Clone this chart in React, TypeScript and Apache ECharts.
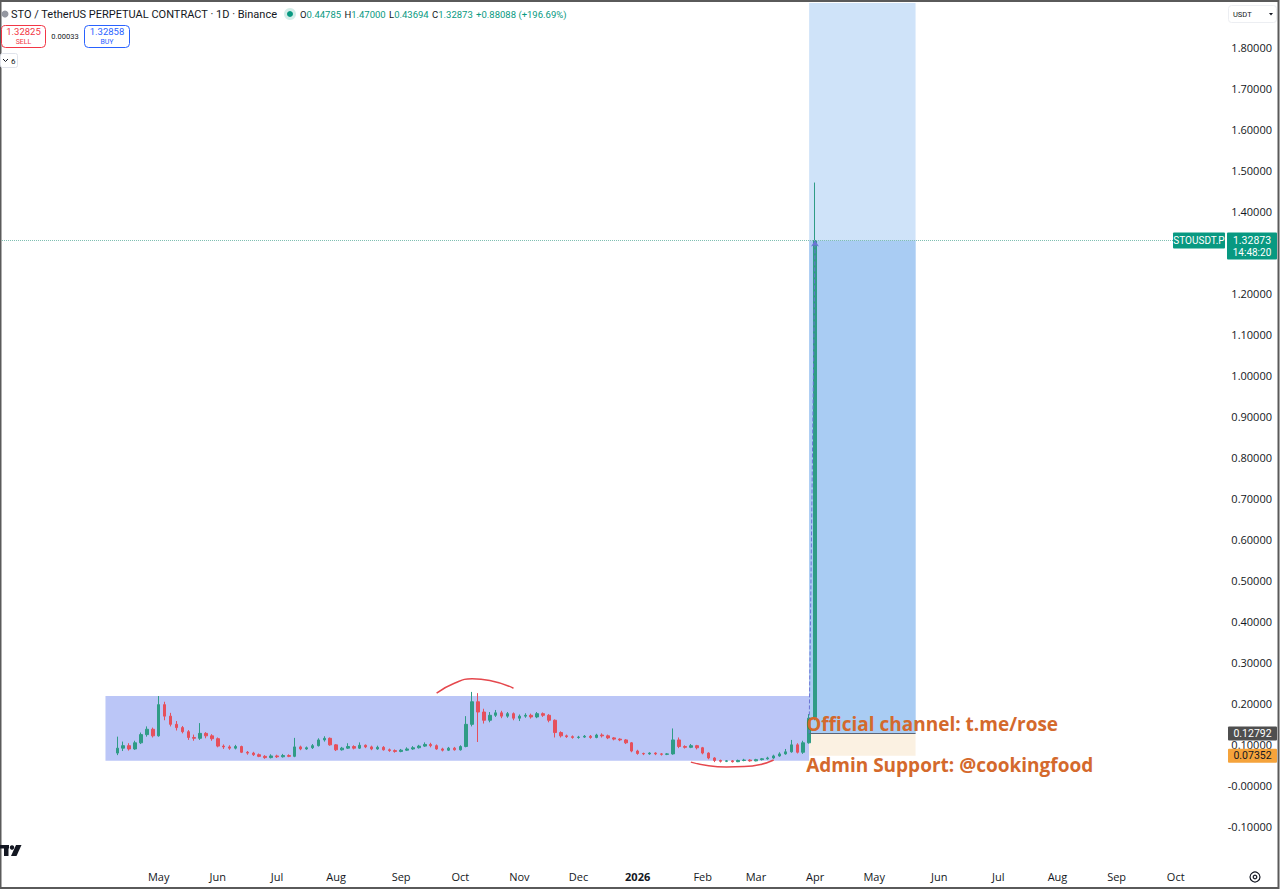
import { useEffect, useRef } from "react";
import * as echarts from "echarts";

// daily chart squeezed into 3-day buckets, first bucket starts 2025-02-12
const startDay = Date.UTC(2025, 1, 12);
const bucketDays = 3;
const bucketCount = 207;
const firstCandle = 19;
const firstLabel = 25;
const monthNames = ["Jan", "Feb", "Mar", "Apr", "May", "Jun", "Jul", "Aug", "Sep", "Oct", "Nov", "Dec"];

// [open, close, low, high]
const candles = [
  [0.080, 0.092, 0.075, 0.120],
  [0.092, 0.098, 0.085, 0.108],
  [0.098, 0.090, 0.086, 0.104],
  [0.090, 0.105, 0.088, 0.110],
  [0.105, 0.125, 0.102, 0.130],
  [0.125, 0.138, 0.120, 0.145],
  [0.138, 0.122, 0.118, 0.142],
  [0.122, 0.198, 0.120, 0.219],
  [0.198, 0.170, 0.160, 0.205],
  [0.170, 0.150, 0.145, 0.178],
  [0.150, 0.142, 0.135, 0.158],
  [0.142, 0.132, 0.128, 0.146],
  [0.132, 0.118, 0.112, 0.136],
  [0.118, 0.116, 0.110, 0.125],
  [0.116, 0.128, 0.112, 0.153],
  [0.128, 0.122, 0.116, 0.131],
  [0.122, 0.115, 0.110, 0.126],
  [0.115, 0.097, 0.094, 0.118],
  [0.097, 0.095, 0.090, 0.101],
  [0.095, 0.092, 0.088, 0.099],
  [0.092, 0.096, 0.089, 0.100],
  [0.096, 0.082, 0.080, 0.098],
  [0.082, 0.080, 0.076, 0.085],
  [0.080, 0.076, 0.073, 0.083],
  [0.076, 0.072, 0.070, 0.079],
  [0.072, 0.069, 0.066, 0.075],
  [0.069, 0.073, 0.067, 0.077],
  [0.073, 0.071, 0.068, 0.076],
  [0.071, 0.074, 0.069, 0.078],
  [0.074, 0.072, 0.070, 0.077],
  [0.072, 0.095, 0.070, 0.117],
  [0.095, 0.090, 0.087, 0.098],
  [0.090, 0.093, 0.088, 0.096],
  [0.093, 0.098, 0.090, 0.102],
  [0.098, 0.112, 0.096, 0.116],
  [0.112, 0.116, 0.108, 0.121],
  [0.116, 0.100, 0.098, 0.118],
  [0.100, 0.088, 0.085, 0.102],
  [0.088, 0.092, 0.086, 0.095],
  [0.092, 0.096, 0.090, 0.104],
  [0.096, 0.092, 0.089, 0.099],
  [0.092, 0.099, 0.090, 0.106],
  [0.099, 0.095, 0.092, 0.101],
  [0.095, 0.090, 0.087, 0.098],
  [0.090, 0.094, 0.088, 0.098],
  [0.094, 0.088, 0.086, 0.097],
  [0.088, 0.086, 0.083, 0.091],
  [0.086, 0.084, 0.081, 0.089],
  [0.084, 0.087, 0.082, 0.090],
  [0.087, 0.090, 0.085, 0.094],
  [0.090, 0.093, 0.088, 0.097],
  [0.093, 0.097, 0.091, 0.100],
  [0.097, 0.101, 0.095, 0.106],
  [0.101, 0.098, 0.094, 0.105],
  [0.098, 0.090, 0.088, 0.101],
  [0.090, 0.087, 0.084, 0.093],
  [0.087, 0.092, 0.085, 0.095],
  [0.092, 0.088, 0.086, 0.095],
  [0.088, 0.096, 0.086, 0.099],
  [0.096, 0.150, 0.094, 0.170],
  [0.150, 0.205, 0.145, 0.229],
  [0.205, 0.180, 0.107, 0.226],
  [0.180, 0.160, 0.152, 0.188],
  [0.160, 0.172, 0.155, 0.180],
  [0.172, 0.178, 0.168, 0.185],
  [0.178, 0.170, 0.165, 0.183],
  [0.170, 0.176, 0.166, 0.180],
  [0.176, 0.165, 0.160, 0.179],
  [0.165, 0.170, 0.158, 0.174],
  [0.170, 0.172, 0.166, 0.177],
  [0.172, 0.168, 0.164, 0.176],
  [0.168, 0.176, 0.165, 0.180],
  [0.176, 0.172, 0.168, 0.179],
  [0.172, 0.160, 0.155, 0.175],
  [0.160, 0.130, 0.118, 0.162],
  [0.130, 0.122, 0.118, 0.133],
  [0.122, 0.120, 0.117, 0.125],
  [0.120, 0.118, 0.115, 0.123],
  [0.118, 0.119, 0.115, 0.122],
  [0.119, 0.121, 0.117, 0.124],
  [0.121, 0.118, 0.115, 0.124],
  [0.118, 0.124, 0.116, 0.127],
  [0.124, 0.122, 0.118, 0.128],
  [0.122, 0.117, 0.114, 0.125],
  [0.117, 0.114, 0.111, 0.119],
  [0.114, 0.112, 0.109, 0.116],
  [0.112, 0.105, 0.102, 0.114],
  [0.105, 0.085, 0.082, 0.107],
  [0.085, 0.079, 0.076, 0.088],
  [0.079, 0.078, 0.075, 0.081],
  [0.078, 0.080, 0.076, 0.082],
  [0.080, 0.078, 0.075, 0.082],
  [0.078, 0.077, 0.074, 0.080],
  [0.077, 0.078, 0.075, 0.080],
  [0.078, 0.112, 0.076, 0.140],
  [0.112, 0.096, 0.092, 0.118],
  [0.096, 0.094, 0.091, 0.099],
  [0.094, 0.098, 0.092, 0.102],
  [0.098, 0.093, 0.089, 0.100],
  [0.093, 0.080, 0.077, 0.095],
  [0.080, 0.068, 0.065, 0.082],
  [0.068, 0.062, 0.058, 0.070],
  [0.062, 0.060, 0.057, 0.064],
  [0.060, 0.061, 0.058, 0.063],
  [0.061, 0.059, 0.057, 0.063],
  [0.059, 0.062, 0.058, 0.064],
  [0.062, 0.063, 0.060, 0.066],
  [0.063, 0.061, 0.059, 0.065],
  [0.061, 0.064, 0.060, 0.066],
  [0.064, 0.066, 0.062, 0.068],
  [0.066, 0.068, 0.064, 0.071],
  [0.068, 0.073, 0.066, 0.076],
  [0.073, 0.078, 0.071, 0.082],
  [0.078, 0.083, 0.076, 0.090],
  [0.083, 0.100, 0.081, 0.112],
  [0.100, 0.082, 0.079, 0.104],
  [0.082, 0.105, 0.078, 0.110],
  [0.105, 0.165, 0.103, 0.175],
  [0.165, 1.32873, 0.160, 1.47],
];

const lastPrice = 1.32873;
const entryPrice = 0.12792;
const stopPrice = 0.07352;

// consolidation box and long-position tool (bucket indices)
const rangeStart = 17;
const rangeEnd = 136;
const rangeTop = 0.219;
const rangeBottom = 0.061;
const toolStart = 136;
const toolEnd = 154;

const yMin = -0.2;
const yMax = 1.9074;
const yStep = 0.1;

// hand drawn arcs
const topArc = [[73, 0.226], [76, 0.25], [79, 0.261], [82, 0.257], [86, 0.238]];
const bottomArc = [[116, 0.058], [119, 0.049], [122, 0.046], [125, 0.047], [128, 0.053], [130, 0.063]];

const upColor = "#2f9c86";
const downColor = "#e6505c";
const tvGreen = "#089981";
const font = "'Open Sans', sans-serif";
const uiFont = "Roboto, sans-serif";

const DAY = 86400000;
const categories = Array.from({ length: bucketCount }, (_, i) =>
  new Date(startDay + i * bucketDays * DAY).toISOString().slice(0, 10)
);
const bucketLabels = categories.map((_, i) => {
  if (i < firstLabel) return "";
  for (let k = 0; k < bucketDays; k++) {
    const d = new Date(startDay + (i * bucketDays + k) * DAY);
    if (d.getUTCDate() === 1) {
      return d.getUTCMonth() === 0 ? `{y|${d.getUTCFullYear()}}` : monthNames[d.getUTCMonth()];
    }
  }
  return "";
});

const onTop = (els: any[]) => els.map((e) => ({ ...e, z: 100 }));

function chromeGraphics() {
  const t = (x: number, y: number, text: string, size: number, fill: string, extra: any = {}) => ({
    type: "text",
    x,
    y,
    style: { text, fill, fontSize: size, fontFamily: uiFont, textVerticalAlign: "middle", ...extra },
  });
  return onTop([
    { type: "rect", shape: { x: 0.5, y: 1, width: 1278, height: 887 }, style: { fill: "none", stroke: "#5a5a5a", lineWidth: 2 } },
    { type: "circle", shape: { cx: 5, cy: 14, r: 3.5 }, style: { fill: "#9598a1" } },
    t(11, 14, "STO / TetherUS PERPETUAL CONTRACT · 1D · Binance", 11, "#131722"),
    { type: "circle", shape: { cx: 290, cy: 14, r: 6 }, style: { fill: "rgba(8,153,129,0.18)" } },
    { type: "circle", shape: { cx: 290, cy: 14, r: 3 }, style: { fill: tvGreen } },
    {
      type: "text",
      x: 300,
      y: 14,
      style: {
        text: "{l|O}{v|0.44785} {l|H}{v|1.47000} {l|L}{v|0.43694} {l|C}{v|1.32873} {v|+0.88088 (+196.69%)}",
        textVerticalAlign: "middle",
        rich: {
          l: { fill: "#131722", fontSize: 9.5, fontFamily: uiFont },
          v: { fill: tvGreen, fontSize: 9.5, fontFamily: uiFont },
        },
      },
    },
    { type: "rect", shape: { x: 1.5, y: 25.5, width: 44, height: 22, r: 4 }, style: { fill: "#fff", stroke: "#f23645", lineWidth: 1 } },
    t(23.5, 31, "1.32825", 9.5, "#f23645", { textAlign: "center" }),
    t(23.5, 41.5, "SELL", 7, "#f23645", { textAlign: "center" }),
    t(65, 36.5, "0.00033", 7.5, "#131722", { textAlign: "center" }),
    { type: "rect", shape: { x: 84.5, y: 25.5, width: 45, height: 22, r: 4 }, style: { fill: "#fff", stroke: "#2962ff", lineWidth: 1 } },
    t(107, 31, "1.32858", 9.5, "#2962ff", { textAlign: "center" }),
    t(107, 41.5, "BUY", 7, "#2962ff", { textAlign: "center" }),
    { type: "rect", shape: { x: 0.5, y: 53.5, width: 17, height: 14, r: 2 }, style: { fill: "#fff", stroke: "#e0e3eb", lineWidth: 1 } },
    { type: "polyline", shape: { points: [[3, 59], [5.5, 61.5], [8, 59]] }, style: { stroke: "#131722", lineWidth: 1, fill: "none" } },
    t(11, 61, "6", 8, "#131722"),
    { type: "rect", shape: { x: 1228.5, y: 5.5, width: 48, height: 17, r: 3 }, style: { fill: "#fff", stroke: "#eceef2", lineWidth: 1 } },
    t(1233, 14, "USDT", 7.5, "#131722"),
    { type: "polygon", shape: { points: [[1269, 13], [1273, 13], [1271, 15.5]] }, style: { fill: "#131722" } },
    // TradingView mark
    { type: "rect", shape: { x: 0, y: 845, width: 9, height: 3.5 }, style: { fill: "#131722" } },
    { type: "rect", shape: { x: 4, y: 845, width: 4.5, height: 11 }, style: { fill: "#131722" } },
    { type: "circle", shape: { cx: 12, cy: 847.5, r: 2.2 }, style: { fill: "#131722" } },
    { type: "polygon", shape: { points: [[16, 845], [21.5, 845], [16.5, 856], [11, 856]] }, style: { fill: "#131722" } },
    { type: "circle", shape: { cx: 1255, cy: 877, r: 5 }, style: { fill: "none", stroke: "#131722", lineWidth: 1.2 } },
    { type: "circle", shape: { cx: 1255, cy: 877, r: 1.8 }, style: { fill: "none", stroke: "#131722", lineWidth: 1.2 } },
  ]);
}

function priceGraphics(chart: echarts.ECharts) {
  const yOf = (v: number) => chart.convertToPixel({ yAxisIndex: 0 }, v) as number;
  const xOf = (i: number) => chart.convertToPixel({ xAxisIndex: 0 }, i) as number;
  const pLast = yOf(lastPrice);
  const pEntry = yOf(entryPrice);
  const pStop = yOf(stopPrice);
  const toolX = xOf(toolStart);
  const text = (x: number, y: number, s: string, size: number, fill: string, extra: any = {}) => ({
    type: "text",
    x,
    y,
    style: { text: s, fill, fontSize: size, fontFamily: uiFont, textVerticalAlign: "middle", ...extra },
  });
  return onTop([
    { type: "rect", shape: { x: 1173, y: pLast - 8, width: 52, height: 16, r: 1 }, style: { fill: tvGreen } },
    text(1199, pLast, "STOUSDT.P", 10, "#fff", { textAlign: "center" }),
    { type: "rect", shape: { x: 1227, y: pLast - 8, width: 50, height: 27, r: 1 }, style: { fill: tvGreen } },
    text(1252, pLast, "1.32873", 10.5, "#fff", { textAlign: "center" }),
    text(1252, pLast + 12, "14:48:20", 10, "#fff", { textAlign: "center" }),
    { type: "rect", shape: { x: 1228, y: pEntry - 7, width: 49, height: 14, r: 1 }, style: { fill: "#4f4f4f" } },
    text(1252.5, pEntry, "0.12792", 10.5, "#fff", { textAlign: "center" }),
    { type: "rect", shape: { x: 1228, y: pStop - 7, width: 49, height: 14, r: 1 }, style: { fill: "#f5a33b" } },
    text(1252.5, pStop, "0.07352", 10.5, "#131722", { textAlign: "center" }),
    text(toolX - 3, pEntry - 9, "Official channel: t.me/rose", 19, "#d4692c", { fontWeight: "bold", fontFamily: font }),
    text(toolX - 3, pStop + 9, "Admin Support: @cookingfood", 19, "#d4692c", { fontWeight: "bold", fontFamily: font }),
  ]);
}

export default function App() {
  const chartRef = useRef<HTMLDivElement>(null);

  useEffect(() => {
    if (!chartRef.current) return;
    const chart = echarts.init(chartRef.current, undefined, { renderer: "svg" });

    chart.setOption({
      animation: false,
      backgroundColor: "#fff",
      grid: { left: 2, right: 54, top: 3, bottom: 23 },
      xAxis: {
        type: "category",
        data: categories,
        boundaryGap: true,
        axisLine: { show: false },
        axisTick: { show: false },
        splitLine: { show: false },
        axisLabel: {
          interval: 0,
          margin: 3,
          color: "#131722",
          fontSize: 11,
          fontFamily: font,
          formatter: (_: string, i: number) => bucketLabels[i],
          rich: { y: { fontWeight: "bold", color: "#131722", fontSize: 11, fontFamily: font } },
        },
      },
      yAxis: {
        type: "value",
        position: "right",
        min: yMin,
        max: yMax,
        interval: yStep,
        scale: true,
        axisLine: { show: false },
        axisTick: { show: false },
        splitLine: { show: false },
        axisLabel: {
          showMinLabel: false,
          showMaxLabel: false,
          align: "right",
          margin: 46,
          color: "#131722",
          fontSize: 11,
          fontFamily: font,
          formatter: (v: number) => (v > 1.85 ? "" : Math.abs(v) < 1e-9 ? "-0.00000" : v.toFixed(5)),
        },
      },
      series: [
        {
          type: "line",
          name: "zones",
          data: [],
          z: 1,
          markArea: {
            silent: true,
            data: [
              [{ xAxis: rangeStart, yAxis: rangeTop, itemStyle: { color: "#bbc6f7" } }, { xAxis: rangeEnd, yAxis: rangeBottom }],
              [{ xAxis: toolStart, yAxis: yMax, itemStyle: { color: "#cfe3f9" } }, { xAxis: toolEnd, yAxis: entryPrice }],
              [{ xAxis: toolStart, yAxis: lastPrice, itemStyle: { color: "#a9ccf3" } }, { xAxis: toolEnd, yAxis: entryPrice }],
              [{ xAxis: toolStart, yAxis: entryPrice, itemStyle: { color: "#fbf1e2" } }, { xAxis: toolEnd, yAxis: stopPrice }],
            ],
          },
          markLine: {
            silent: true,
            symbol: "none",
            label: { show: false },
            lineStyle: { color: "#5b6577", width: 1, type: "solid" },
            data: [[{ coord: [toolStart, entryPrice] }, { coord: [toolEnd, entryPrice] }]],
          },
        },
        {
          type: "candlestick",
          name: "STOUSDT.P",
          z: 2,
          barWidth: 3,
          data: [...Array(firstCandle).fill("-"), ...candles],
          itemStyle: {
            color: upColor,
            color0: downColor,
            borderColor: upColor,
            borderColor0: downColor,
            borderWidth: 1,
          },
          markLine: {
            silent: true,
            symbol: "none",
            label: { show: false },
            lineStyle: { color: "#7fbfb2", width: 1, type: "dotted" },
            data: [{ yAxis: lastPrice }],
          },
        },
        {
          type: "line",
          name: "arc-top",
          data: topArc,
          smooth: true,
          symbol: "none",
          z: 3,
          lineStyle: { color: "#e5484d", width: 1.5 },
        },
        {
          type: "line",
          name: "arc-bottom",
          data: bottomArc,
          smooth: true,
          symbol: "none",
          z: 3,
          lineStyle: { color: "#e5484d", width: 1.5 },
        },
        {
          type: "line",
          name: "connector",
          data: [],
          z: 3,
          markLine: {
            silent: true,
            symbol: ["none", "arrow"],
            symbolSize: 6,
            label: { show: false },
            lineStyle: { color: "#6b73d6", width: 1, type: "dashed" },
            data: [[{ coord: [toolStart, entryPrice] }, { coord: [toolStart + 1, lastPrice] }]],
          },
        },
      ],
      graphic: chromeGraphics(),
    });

    chart.setOption({ graphic: [...chromeGraphics(), ...priceGraphics(chart)] });

    const handleResize = () => chart.resize();
    window.addEventListener("resize", handleResize);
    return () => {
      window.removeEventListener("resize", handleResize);
      chart.dispose();
    };
  }, []);

  return (
    <div
      ref={chartRef}
      style={{ position: "absolute", left: 0, top: 0, width: 1280, height: 891, background: "#fff" }}
    />
  );
}
